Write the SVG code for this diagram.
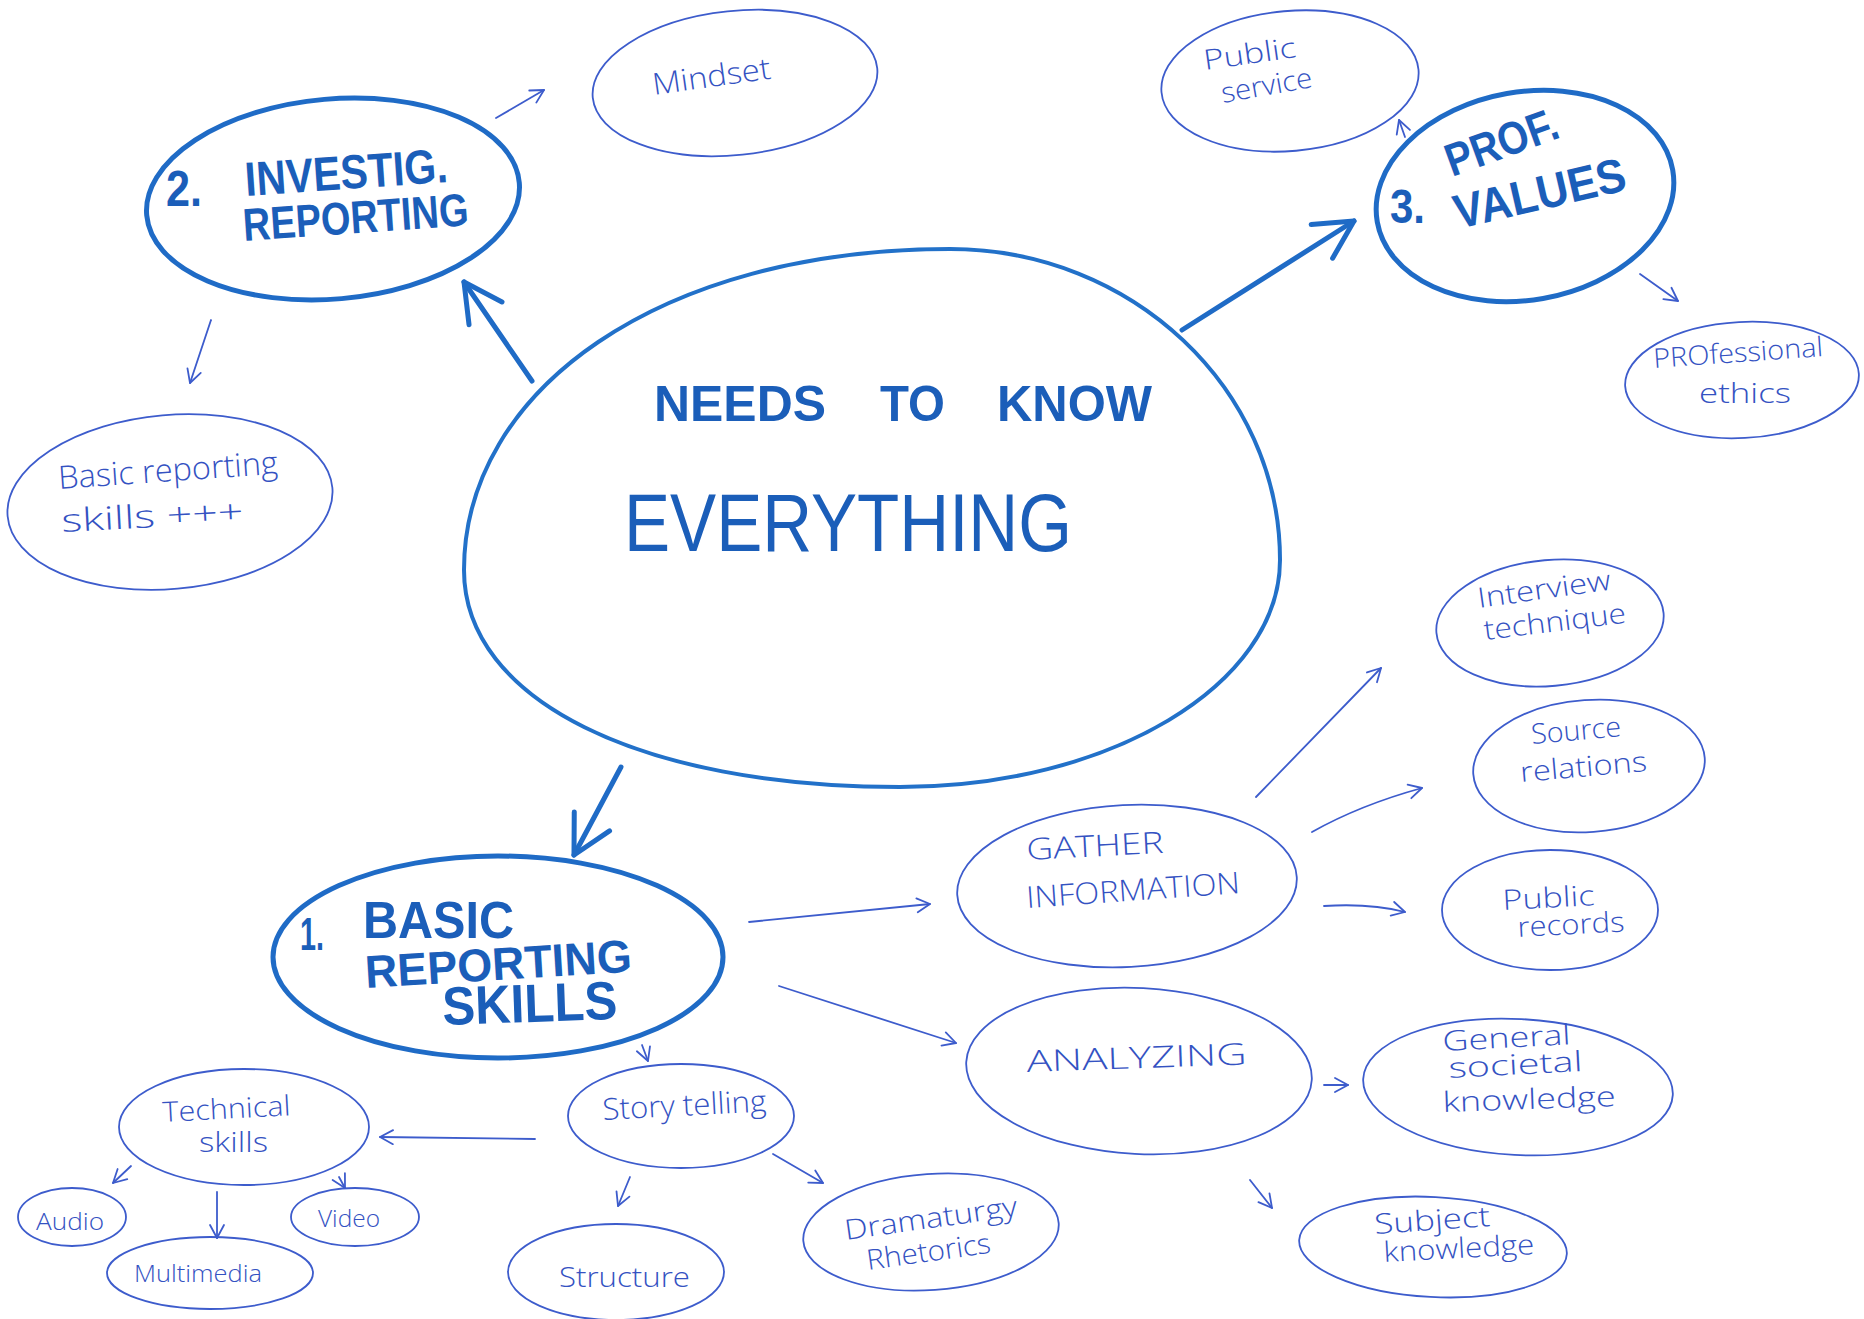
<svg xmlns="http://www.w3.org/2000/svg" width="1864" height="1319" viewBox="0 0 1864 1319">
<style>
.bg{fill:#ffffff}
.thick{fill:none;stroke:#1f6bc6;stroke-width:5;stroke-linecap:round}
.main{fill:none;stroke:#2271c9;stroke-width:4}
.thin{fill:none;stroke:#3d5ccc;stroke-width:1.8;stroke-linecap:round}
.tb{font-family:"Liberation Sans",Arial,sans-serif;font-weight:bold;fill:#1b5eb9}
.tm{font-family:"Liberation Sans",Arial,sans-serif;fill:#1b5eb9}
.tt{font-family:"Open Sans","Liberation Sans",sans-serif;font-weight:300;fill:#3452c2}
.ca{fill:none;stroke:#1f6bc6;stroke-width:5;stroke-linecap:round;stroke-linejoin:round}
.cs{fill:none;stroke:#3d5ccc;stroke-width:1.8;stroke-linecap:round;stroke-linejoin:round}
</style>
<defs>
<marker id="ah" markerUnits="userSpaceOnUse" markerWidth="80" markerHeight="80" refX="0" refY="0" viewBox="-40 -40 80 80" orient="auto" overflow="visible">
<path d="M-38,-20 L0,0 L-38,20" fill="none" stroke="#1f6bc6" stroke-width="5" stroke-linecap="round" stroke-linejoin="round"/>
</marker>
<marker id="as" markerUnits="userSpaceOnUse" markerWidth="30" markerHeight="30" refX="0" refY="0" viewBox="-15 -15 30 30" orient="auto" overflow="visible">
<path d="M-13,-7 L0,0 L-13,7" fill="none" stroke="#3d5ccc" stroke-width="1.8" stroke-linecap="round" stroke-linejoin="round"/>
</marker>
</defs>
<rect class="bg" x="0" y="0" width="1864" height="1319"/>

<g id="connectors">
<path class="ca" d="M532,381 L464,282" marker-end="url(#ah)"/>
<path class="ca" d="M1182,330 L1354,221" marker-end="url(#ah)"/>
<path class="ca" d="M621,767 L574,855" marker-end="url(#ah)"/>
<path class="cs" d="M496,118 L544,90" marker-end="url(#as)"/>
<path class="cs" d="M211,320 L190,383" marker-end="url(#as)"/>
<path class="cs" d="M1405,137 L1399,120" marker-end="url(#as)"/>
<path class="cs" d="M1640,274 L1678,301" marker-end="url(#as)"/>
<path class="cs" d="M1256,797 L1381,668" marker-end="url(#as)"/>
<path class="cs" d="M1312,832 Q1360,805 1422,788" marker-end="url(#as)"/>
<path class="cs" d="M1324,906 Q1370,903 1405,912" marker-end="url(#as)"/>
<path class="cs" d="M749,922 L930,904" marker-end="url(#as)"/>
<path class="cs" d="M779,986 L956,1043" marker-end="url(#as)"/>
<path class="cs" d="M1324,1085 L1348,1085" marker-end="url(#as)"/>
<path class="cs" d="M1250,1180 L1272,1208" marker-end="url(#as)"/>
<path class="cs" d="M642,1045 L648,1061" marker-end="url(#as)"/>
<path class="cs" d="M535,1139 L380,1137" marker-end="url(#as)"/>
<path class="cs" d="M131,1166 L113,1183" marker-end="url(#as)"/>
<path class="cs" d="M217,1192 L217,1238" marker-end="url(#as)"/>
<path class="cs" d="M339,1177 L345,1188" marker-end="url(#as)"/>
<path class="cs" d="M630,1177 L618,1206" marker-end="url(#as)"/>
<path class="cs" d="M773,1154 L823,1183" marker-end="url(#as)"/>
</g>

<g id="center">
<path class="main" d="M950,249 C1132,249 1280,389 1280,560 C1280,685 1109,787 900,787 C640,787 464,700 464,570 C464,390 660,249 950,249 Z"/>
<text class="tb" x="654" y="421" font-size="50" textLength="172" lengthAdjust="spacingAndGlyphs">NEEDS</text>
<text class="tb" x="880" y="421" font-size="50" textLength="65" lengthAdjust="spacingAndGlyphs">TO</text>
<text class="tb" x="997" y="421" font-size="50" textLength="155" lengthAdjust="spacingAndGlyphs">KNOW</text>
<text class="tm" x="624" y="551" font-size="82" textLength="448" lengthAdjust="spacingAndGlyphs">EVERYTHING</text>
</g>

<g id="investig">
<ellipse class="thick" cx="333" cy="199" rx="187" ry="100" transform="rotate(-5 333 199)"/>
<text class="tb" x="166" y="206" font-size="50" textLength="36" lengthAdjust="spacingAndGlyphs">2.</text>
<text class="tb" x="246" y="196" font-size="48" textLength="203" lengthAdjust="spacingAndGlyphs" transform="rotate(-4 246 196)">INVESTIG.</text>
<text class="tb" x="244" y="241" font-size="46" textLength="226" lengthAdjust="spacingAndGlyphs" transform="rotate(-4 244 241)">REPORTING</text>
</g>

<g id="profvalues">
<ellipse class="thick" cx="1525" cy="196" rx="150" ry="104" transform="rotate(-10 1525 196)"/>
<text class="tb" x="1390" y="223" font-size="48" textLength="35" lengthAdjust="spacingAndGlyphs">3.</text>
<text class="tb" x="1452" y="177" font-size="46" textLength="117" lengthAdjust="spacingAndGlyphs" transform="rotate(-20 1452 177)">PROF.</text>
<text class="tb" x="1458" y="229" font-size="48" textLength="175" lengthAdjust="spacingAndGlyphs" transform="rotate(-13 1458 229)">VALUES</text>
</g>

<g id="basicskills">
<ellipse class="thick" cx="498" cy="957" rx="225" ry="101"/>
<text class="tb" x="300" y="950" font-size="46" textLength="24" lengthAdjust="spacingAndGlyphs">1.</text>
<text class="tb" x="363" y="938" font-size="52" textLength="151" lengthAdjust="spacingAndGlyphs">BASIC</text>
<text class="tb" x="366" y="988" font-size="46" textLength="267" lengthAdjust="spacingAndGlyphs" transform="rotate(-3.5 366 988)">REPORTING</text>
<text class="tb" x="443" y="1025" font-size="54" textLength="175" lengthAdjust="spacingAndGlyphs" transform="rotate(-2 443 1025)">SKILLS</text>
</g>

<g id="mindset">
<ellipse class="thin" cx="735" cy="83" rx="143" ry="72" transform="rotate(-6 735 83)"/>
<text class="tt" x="654" y="95" font-size="30" textLength="119" lengthAdjust="spacingAndGlyphs" transform="rotate(-8 654 95)">Mindset</text>
</g>

<g id="basicreporting">
<ellipse class="thin" cx="170" cy="502" rx="163" ry="87" transform="rotate(-5 170 502)"/>
<text class="tt" x="59" y="489" font-size="32" textLength="220" lengthAdjust="spacingAndGlyphs" transform="rotate(-4 59 489)">Basic reporting</text>
<text class="tt" x="62" y="532" font-size="32" textLength="182" lengthAdjust="spacingAndGlyphs" transform="rotate(-3 62 532)">skills +++</text>
</g>

<g id="publicservice">
<ellipse class="thin" cx="1290" cy="81" rx="129" ry="70" transform="rotate(-5 1290 81)"/>
<text class="tt" x="1205" y="70" font-size="28" textLength="93" lengthAdjust="spacingAndGlyphs" transform="rotate(-8 1205 70)">Public</text>
<text class="tt" x="1223" y="103" font-size="28" textLength="92" lengthAdjust="spacingAndGlyphs" transform="rotate(-10 1223 103)">service</text>
</g>

<g id="profethics">
<ellipse class="thin" cx="1742" cy="380" rx="117" ry="58" transform="rotate(-3 1742 380)"/>
<text class="tt" x="1654" y="368" font-size="27" textLength="170" lengthAdjust="spacingAndGlyphs" transform="rotate(-4 1654 368)">PROfessional</text>
<text class="tt" x="1699" y="403" font-size="28" textLength="92" lengthAdjust="spacingAndGlyphs">ethics</text>
</g>

<g id="interview">
<ellipse class="thin" cx="1550" cy="623" rx="114" ry="63" transform="rotate(-5 1550 623)"/>
<text class="tt" x="1479" y="608" font-size="28" textLength="134" lengthAdjust="spacingAndGlyphs" transform="rotate(-8 1479 608)">Interview</text>
<text class="tt" x="1485" y="640" font-size="28" textLength="143" lengthAdjust="spacingAndGlyphs" transform="rotate(-7 1485 640)">technique</text>
</g>

<g id="sourcerelations">
<ellipse class="thin" cx="1589" cy="766" rx="116" ry="66" transform="rotate(-4 1589 766)"/>
<text class="tt" x="1532" y="744" font-size="28" textLength="90" lengthAdjust="spacingAndGlyphs" transform="rotate(-5 1532 744)">Source</text>
<text class="tt" x="1521" y="782" font-size="28" textLength="127" lengthAdjust="spacingAndGlyphs" transform="rotate(-5 1521 782)">relations</text>
</g>

<g id="publicrecords">
<ellipse class="thin" cx="1550" cy="910" rx="108" ry="60"/>
<text class="tt" x="1503" y="910" font-size="28" textLength="92" lengthAdjust="spacingAndGlyphs" transform="rotate(-3 1503 910)">Public</text>
<text class="tt" x="1518" y="937" font-size="28" textLength="107" lengthAdjust="spacingAndGlyphs" transform="rotate(-3 1518 937)">records</text>
</g>

<g id="gather">
<ellipse class="thin" cx="1127" cy="886" rx="170" ry="81" transform="rotate(-3 1127 886)"/>
<text class="tt" x="1027" y="860" font-size="30" textLength="137" lengthAdjust="spacingAndGlyphs" transform="rotate(-3 1027 860)">GATHER</text>
<text class="tt" x="1027" y="908" font-size="30" textLength="214" lengthAdjust="spacingAndGlyphs" transform="rotate(-4 1027 908)">INFORMATION</text>
</g>

<g id="analyzing">
<ellipse class="thin" cx="1139" cy="1071" rx="173" ry="83" transform="rotate(3 1139 1071)"/>
<text class="tt" x="1027" y="1072" font-size="30" textLength="220" lengthAdjust="spacingAndGlyphs" transform="rotate(-2 1027 1072)">ANALYZING</text>
</g>

<g id="general">
<ellipse class="thin" cx="1518" cy="1087" rx="155" ry="68" transform="rotate(3 1518 1087)"/>
<text class="tt" x="1443" y="1051" font-size="28" textLength="128" lengthAdjust="spacingAndGlyphs" transform="rotate(-3 1443 1051)">General</text>
<text class="tt" x="1449" y="1078" font-size="28" textLength="134" lengthAdjust="spacingAndGlyphs" transform="rotate(-3 1449 1078)">societal</text>
<text class="tt" x="1443" y="1112" font-size="28" textLength="173" lengthAdjust="spacingAndGlyphs" transform="rotate(-2 1443 1112)">knowledge</text>
</g>

<g id="subject">
<ellipse class="thin" cx="1433" cy="1247" rx="134" ry="50" transform="rotate(3 1433 1247)"/>
<text class="tt" x="1375" y="1234" font-size="28" textLength="116" lengthAdjust="spacingAndGlyphs" transform="rotate(-4 1375 1234)">Subject</text>
<text class="tt" x="1384" y="1262" font-size="28" textLength="151" lengthAdjust="spacingAndGlyphs" transform="rotate(-3 1384 1262)">knowledge</text>
</g>

<g id="storytelling">
<ellipse class="thin" cx="681" cy="1116" rx="113" ry="52"/>
<text class="tt" x="603" y="1120" font-size="30" textLength="164" lengthAdjust="spacingAndGlyphs" transform="rotate(-3 603 1120)">Story telling</text>
</g>

<g id="technical">
<ellipse class="thin" cx="244" cy="1127" rx="125" ry="58"/>
<text class="tt" x="163" y="1122" font-size="28" textLength="128" lengthAdjust="spacingAndGlyphs" transform="rotate(-3 163 1122)">Technical</text>
<text class="tt" x="199" y="1152" font-size="28" textLength="69" lengthAdjust="spacingAndGlyphs">skills</text>
</g>

<g id="audio">
<ellipse class="thin" cx="72" cy="1217" rx="54" ry="29"/>
<text class="tt" x="36" y="1230" font-size="24" textLength="68" lengthAdjust="spacingAndGlyphs">Audio</text>
</g>

<g id="multimedia">
<ellipse class="thin" cx="210" cy="1273" rx="103" ry="36"/>
<text class="tt" x="134" y="1282" font-size="24" textLength="128" lengthAdjust="spacingAndGlyphs">Multimedia</text>
</g>

<g id="video">
<ellipse class="thin" cx="355" cy="1217" rx="64" ry="29"/>
<text class="tt" x="318" y="1227" font-size="24" textLength="62" lengthAdjust="spacingAndGlyphs">Video</text>
</g>

<g id="structure">
<ellipse class="thin" cx="616" cy="1272" rx="108" ry="48"/>
<text class="tt" x="559" y="1287" font-size="28" textLength="131" lengthAdjust="spacingAndGlyphs">Structure</text>
</g>

<g id="dramaturgy">
<ellipse class="thin" cx="931" cy="1232" rx="128" ry="58" transform="rotate(-4 931 1232)"/>
<text class="tt" x="846" y="1240" font-size="28" textLength="174" lengthAdjust="spacingAndGlyphs" transform="rotate(-8 846 1240)">Dramaturgy</text>
<text class="tt" x="868" y="1270" font-size="28" textLength="125" lengthAdjust="spacingAndGlyphs" transform="rotate(-8 868 1270)">Rhetorics</text>
</g>
</svg>
